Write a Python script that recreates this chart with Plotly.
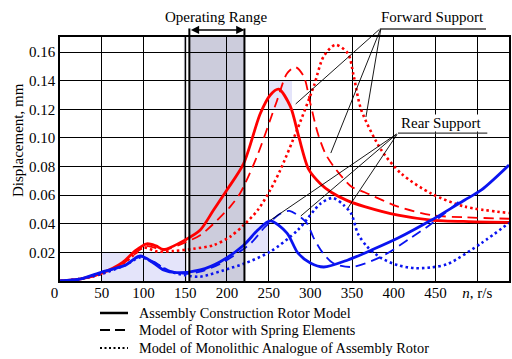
import plotly.graph_objects as go

# ---------------- data ----------------
x_ticks = [0, 50, 100, 150, 200, 250, 300, 350, 400, 450, 500]
x_ticktext = ["0\u00a0\u00a0\u00a0", "50", "100", "150", "200", "250", "300", "350", "400", "450", "<i>n</i>, r/s"]
y_ticks = [0.02, 0.04, 0.06, 0.08, 0.10, 0.12, 0.14, 0.16]
y_ticktext = ["0.02", "0.04", "0.06", "0.08", "0.10", "0.12", "0.14", "0.16"]

# Forward support (red)
n_fs = [0, 25, 50, 75, 90, 104, 115, 124, 150, 168, 184, 200, 220, 240, 252, 262, 276, 286, 298, 312, 325, 345, 365, 405, 445, 490, 538]
fs_assembly = [0, 0.0015, 0.0055, 0.013, 0.021, 0.026, 0.0245, 0.022, 0.0287, 0.0356, 0.0496, 0.0636, 0.082, 0.117, 0.130, 0.134, 0.122, 0.101, 0.078, 0.068, 0.062, 0.056, 0.052, 0.046, 0.0426, 0.0415, 0.041]

n_fd = [0, 25, 50, 75, 90, 102, 115, 124, 150, 168, 184, 204, 216, 236, 260, 272, 282, 292, 300, 309, 318, 328, 349, 365, 405, 445, 485, 538]
fs_spring = [0, 0.0015, 0.005, 0.012, 0.019, 0.0245, 0.023, 0.0215, 0.027, 0.032, 0.040, 0.052, 0.0615, 0.087, 0.126, 0.145, 0.1495, 0.143, 0.124, 0.103, 0.089, 0.080, 0.066, 0.062, 0.052, 0.046, 0.0445, 0.0435]

n_fm = [0, 25, 50, 75, 90, 100, 117, 136, 160, 184, 204, 220, 237, 252, 264, 284, 304, 316, 330, 345, 352, 361, 385, 409, 445, 485, 538]
fs_mono = [0, 0.0015, 0.005, 0.012, 0.019, 0.0235, 0.0205, 0.021, 0.0225, 0.025, 0.031, 0.039, 0.0496, 0.0636, 0.0776, 0.1055, 0.136, 0.157, 0.165, 0.159, 0.143, 0.1195, 0.0915, 0.075, 0.061, 0.052, 0.0475]

# Rear support (blue)
n_ra = [0, 25, 50, 78, 96, 112, 124, 140, 168, 192, 220, 237, 252, 272, 285, 300, 316, 345, 376, 405, 445, 485, 505, 538]
rs_assembly = [0, 0.0015, 0.0063, 0.011, 0.0175, 0.0126, 0.0077, 0.0058, 0.0077, 0.0135, 0.025, 0.0356, 0.042, 0.0335, 0.0196, 0.0126, 0.0098, 0.0147, 0.0223, 0.030, 0.0426, 0.0566, 0.0636, 0.081]

n_rd = [0, 25, 50, 78, 96, 112, 130, 150, 168, 192, 228, 246, 264, 275, 295, 304, 315, 327, 349, 385, 420, 445, 478]
rs_spring = [0, 0.0015, 0.006, 0.011, 0.017, 0.0135, 0.0075, 0.005, 0.0065, 0.012, 0.026, 0.038, 0.047, 0.049, 0.041, 0.030, 0.0196, 0.0126, 0.0098, 0.017, 0.030, 0.040, 0.0555]

n_rm = [0, 25, 50, 78, 96, 112, 130, 150, 168, 204, 220, 252, 285, 312, 327, 340, 349, 357, 368, 385, 405, 425, 445, 465, 505, 538]
rs_mono = [0, 0.0015, 0.005, 0.011, 0.0165, 0.013, 0.007, 0.004, 0.003, 0.009, 0.012, 0.0205, 0.0356, 0.054, 0.058, 0.053, 0.047, 0.033, 0.024, 0.016, 0.011, 0.009, 0.0095, 0.012, 0.0265, 0.0405]

operating_range = [155, 221]

legend_names = ["Assembly Construction Rotor Model",
                "Model of Rotor with Spring Elements",
                "Model of Monolithic Analogue of Assembly Rotor"]

# ---------------- styles ----------------
RED = "rgb(255,0,0)"
BLUE = "rgb(10,20,240)"
SERIF = "Liberation Serif, Times New Roman, serif"
DASH = "10px,6px"
DOT = "2.5px,3px"

fig = go.Figure()

def add(x, y, color, dash, width):
    fig.add_trace(go.Scatter(x=x, y=y, mode="lines", showlegend=False,
                             line=dict(color=color, dash=dash, width=width,
                                       shape="spline", smoothing=0.8),
                             hoverinfo="skip"))

add(n_fm, fs_mono, RED, DOT, 2.6)
add(n_fd, fs_spring, RED, DASH, 1.8)
add(n_fs, fs_assembly, RED, "solid", 2.8)
add(n_rm, rs_mono, BLUE, DOT, 2.6)
add(n_rd, rs_spring, BLUE, DASH, 1.8)
add(n_ra, rs_assembly, BLUE, "solid", 2.8)

shapes = []
# light highlight boxes (as in reference)
LAV = "rgba(225,225,250,0.9)"
for x0, x1, y0, y1 in [(50, 150, 0, 0.02), (221, 250, 0.02, 0.04), (250, 278, 0.12, 0.14)]:
    shapes.append(dict(type="rect", xref="x", yref="y", x0=x0, x1=x1, y0=y0, y1=y1,
                       fillcolor=LAV, line=dict(width=0), layer="below"))
# operating range band
shapes.append(dict(type="rect", xref="x", yref="paper", x0=operating_range[0], x1=operating_range[1],
                   y0=0, y1=1, fillcolor="rgb(204,204,220)", line=dict(width=0), layer="below"))
shapes.append(dict(type="line", xref="x", yref="paper", x0=150, x1=150, y0=0, y1=1,
                   line=dict(color="rgb(150,150,160)", width=2.5), layer="below"))
for xv in operating_range:
    shapes.append(dict(type="line", xref="x", yref="paper", x0=xv, x1=xv, y0=0, y1=1.035,
                       line=dict(color="black", width=2), layer="above"))
# underline of "Forward Support"
shapes.append(dict(type="line", xref="paper", yref="paper", x0=0.7127, x1=0.9488, y0=1.0328, y1=1.0328,
                   line=dict(color="rgb(60,60,60)", width=1.3)))
# underline of "Rear Support"
shapes.append(dict(type="line", xref="x", yref="y", x0=405, x1=512, y0=0.1034, y1=0.1034,
                   line=dict(color="rgb(60,60,60)", width=1.3), layer="above"))

annotations = []
# leader lines
fwd_start = (384.6, 0.1768)
for tx, ty in [(282.4, 0.1237), (324.5, 0.0894), (366.6, 0.1146)]:
    annotations.append(dict(x=tx, y=ty, xref="x", yref="y", ax=fwd_start[0], ay=fwd_start[1],
                            axref="x", ayref="y", text="", showarrow=True, arrowhead=0,
                            arrowwidth=0.9, arrowcolor="black", standoff=0, startstandoff=0))
rear_start = (405, 0.1034)
for tx, ty in [(252.4, 0.0426), (288.5, 0.0454), (345, 0.051)]:
    annotations.append(dict(x=tx, y=ty, xref="x", yref="y", ax=rear_start[0], ay=rear_start[1],
                            axref="x", ayref="y", text="", showarrow=True, arrowhead=0,
                            arrowwidth=0.9, arrowcolor="black", standoff=0, startstandoff=0))
# operating range arrow
annotations.append(dict(x=operating_range[1], y=1.0287, xref="x", yref="paper",
                        ax=operating_range[0], ay=0, axref="x", ayref="pixel", text="",
                        showarrow=True, arrowhead=2, arrowside="end+start", arrowsize=1.1,
                        arrowwidth=1.5, arrowcolor="black", standoff=0, startstandoff=0))
TXT = dict(showarrow=False, xanchor="center", yanchor="middle",
           font=dict(family=SERIF, size=15, color="black"))
annotations.append(dict(x=0.347, y=1.082, xref="paper", yref="paper", text="Operating Range", **TXT))
annotations.append(dict(x=0.8307, y=1.082, xref="paper", yref="paper", text="Forward Support", **TXT))
annotations.append(dict(x=456, y=0.1104, xref="x", yref="y", text="Rear Support",
                        bgcolor="white", borderpad=0, **TXT))
# y-axis title
annotations.append(dict(x=-0.0935, y=0.578, xref="paper", yref="paper", text="Displacement, mm",
                        textangle=-90, **TXT))

# legend (below the plot): black line samples + labels
legend_rows_y = [-0.1311, -0.2008, -0.2746]
legend_dash = ["solid", "10px,5px", "2px,2.5px"]
legend_width = [2.5, 1.8, 2.0]
for name, yy, dsh, w in zip(legend_names, legend_rows_y, legend_dash, legend_width):
    shapes.append(dict(type="line", xref="paper", yref="paper", x0=0.0891, x1=0.1514, y0=yy, y1=yy,
                       line=dict(color="black", width=w, dash=dsh)))
    annotations.append(dict(x=0.1715, y=yy, xref="paper", yref="paper", text=name,
                            showarrow=False, xanchor="left", yanchor="middle",
                            font=dict(family=SERIF, size=14.3, color="black")))

fig.update_layout(
    width=512, height=359,
    margin=dict(l=60, r=3, t=37, b=78, autoexpand=False),
    paper_bgcolor="white", plot_bgcolor="white",
    font=dict(family=SERIF, size=15, color="black"),
    shapes=shapes, annotations=annotations,
    showlegend=False,
    xaxis=dict(range=[0, 538], tickmode="array", tickvals=x_ticks, ticktext=x_ticktext,
               showgrid=True, gridcolor="black", gridwidth=1, zeroline=False,
               showline=True, linecolor="black", linewidth=1.5, mirror=True, automargin=False,
               ticks="", ticklabelstandoff=-3, tickfont=dict(family=SERIF, size=15)),
    yaxis=dict(range=[0, 0.1705], tickmode="array", tickvals=y_ticks, ticktext=y_ticktext,
               showgrid=True, gridcolor="black", gridwidth=1, zeroline=False,
               showline=True, linecolor="black", linewidth=1.5, mirror=True, automargin=False,
               ticks="", tickfont=dict(family=SERIF, size=15)),
)

fig.write_html("out.html", config={"displayModeBar": False},
               post_script="document.body.style.margin='0px';")
